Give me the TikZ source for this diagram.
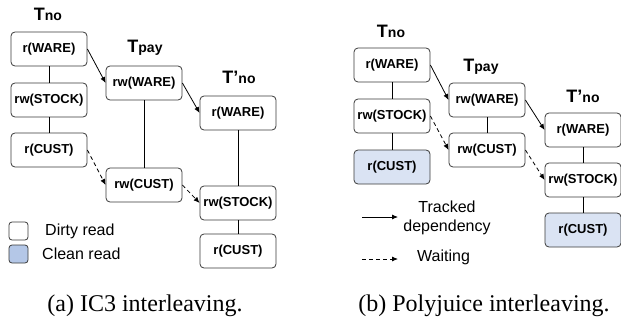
\documentclass[tikz,border=0pt]{standalone}
\usepackage{fontspec}
\setmainfont{Liberation Serif}
\setsansfont{Liberation Sans}
\usetikzlibrary{arrows.meta}
\definecolor{cleanfill}{HTML}{DAE3F3}
\definecolor{legfill}{HTML}{B4C7E7}
\definecolor{edgegray}{HTML}{3A3A3A}
\begin{document}
\begin{tikzpicture}[x=1pt,y=-1pt,
  op/.style={draw=edgegray, line width=0.8pt, rounded corners=4pt, fill=white,
    minimum width=76pt, minimum height=34pt, inner sep=0pt,
    font=\sffamily\bfseries\fontsize{13}{15}\selectfont},
  clean/.style={op, fill=cleanfill},
  title/.style={inner sep=0pt, font=\sffamily\bfseries},
  link/.style={line width=0.8pt, draw=black},
  dep/.style={line width=0.8pt, -{Latex[length=6pt,width=5pt]}},
  wait/.style={dep, dash pattern=on 4pt off 3pt},
  legbox/.style={draw=edgegray, line width=0.8pt, rounded corners=3pt,
    minimum width=19pt, minimum height=18pt, inner sep=0pt},
  legtext/.style={inner sep=0pt, font=\sffamily\fontsize{16}{19}\selectfont},
  captxt/.style={inner sep=0pt, font=\rmfamily\fontsize{24}{28}\selectfont}]
\useasboundingbox (0,0) rectangle (621,321);
\newcommand\ttl[2]{{\fontsize{18}{20}\selectfont #1}{\fontsize{14}{16}\selectfont #2}}
% ---------- (a) IC3 ----------
\node[title] (ta) at (48,14) {\ttl{T}{no}};
\node[title] (tb) at (145,48) {\ttl{T}{pay}};
\node[title] (tc) at (239,77) {\ttl{T'}{no}};
\node[op] (a1) at (49,49) {r(WARE)};
\node[op] (a2) at (49,100) {rw(STOCK)};
\node[op] (a3) at (49,150) {r(CUST)};
\node[op] (b1) at (144,83) {rw(WARE)};
\node[op] (b2) at (144,185) {rw(CUST)};
\node[op] (c1) at (238,113) {r(WARE)};
\node[op] (c2) at (238,203) {rw(STOCK)};
\node[op] (c3) at (238,251) {r(CUST)};
\draw[link] (a1) -- (a2);
\draw[link] (a2) -- (a3);
\draw[link] (b1) -- (b2);
\draw[link] (c1) -- (c2);
\draw[link] (c2) -- (c3);
\draw[dep] (a1.east) -- (b1.west);
\draw[dep] (b1.east) -- (c1.west);
\draw[wait] (a3.east) -- (b2.west);
\draw[wait] (b2.east) -- (c2.west);
\node[legbox, fill=white] (l1) at (18.5,231) {};
\node[legbox, fill=legfill] (l2) at (18.5,254) {};
\node[legtext, anchor=west] (l1t) at (45,231) {Dirty read};
\node[legtext, anchor=west] (l2t) at (42,254) {Clean read};
\node[captxt] (capa) at (145,306) {(a) IC3 interleaving.};
% ---------- (b) Polyjuice ----------
\node[title] (pa) at (391,31) {\ttl{T}{no}};
\node[title] (pb) at (481,67) {\ttl{T}{pay}};
\node[title] (pc) at (583,96) {\ttl{T'}{no}};
\node[op] (d1) at (392,65) {r(WARE)};
\node[op] (d2) at (392,116) {rw(STOCK)};
\node[clean] (d3) at (392,167) {r(CUST)};
\node[op] (e1) at (487,100) {rw(WARE)};
\node[op] (e2) at (487,150) {rw(CUST)};
\node[op] (f1) at (583,130) {r(WARE)};
\node[op] (f2) at (583,180) {rw(STOCK)};
\node[clean] (f3) at (583,230) {r(CUST)};
\draw[link] (d1) -- (d2);
\draw[link] (d2) -- (d3);
\draw[link] (e1) -- (e2);
\draw[link] (f1) -- (f2);
\draw[link] (f2) -- (f3);
\draw[dep] (d1.east) -- (e1.west);
\draw[dep] (e1.east) -- (f1.west);
\draw[wait] (d2.east) -- (e2.west);
\draw[wait] (e2.east) -- (f2.west);
\coordinate (s1) at (362,217);
\coordinate (s2) at (398,217);
\coordinate (w1) at (362,259);
\coordinate (w2) at (398,259);
\draw[dep] (s1) -- (s2);
\draw[wait] (w1) -- (w2);
\node[legtext, align=center] (trk) at (447,218) {Tracked\\dependency};
\node[legtext, anchor=west] (wt) at (417,257) {Waiting};
\node[captxt] (capb) at (484,306) {(b) Polyjuice interleaving.};
\end{tikzpicture}
\end{document}
